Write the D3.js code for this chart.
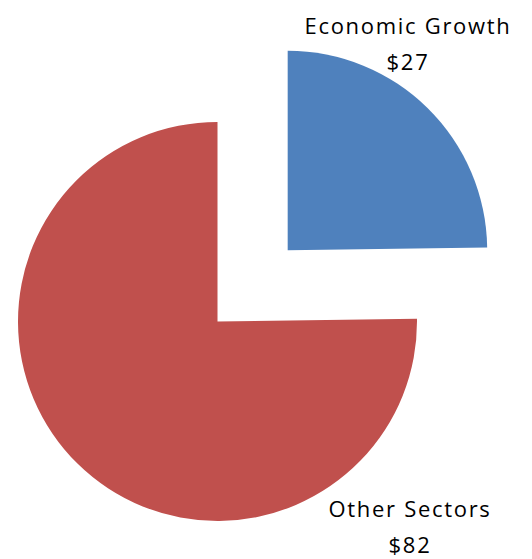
<!DOCTYPE html>
<html>
<head>
<meta charset="utf-8">
<script src="https://cdn.jsdelivr.net/npm/d3@7"></script>
<style>
  html, body { margin: 0; padding: 0; background: #fff; }
  svg { display: block; }
</style>
</head>
<body>
<svg id="chart" width="532" height="559"></svg>
<script>
// data
const categories = ["Economic Growth", "Other Sectors"];
const values = [27, 82];
const valueLabels = ["$27", "$82"];
const colors = ["#4F81BD", "#C0504D"];

const w = 532, h = 559;
const cx = 217.5, cy = 321.5, r = 199.5;
const explode = [100, 0]; // px pulled out along mid angle
// label anchor points (x, baseline of first line)
const labelPos = [[408, 34], [410, 517]];

const svg = d3.select("#chart");

const pie = d3.pie().sort(null).value((d) => d.v);
const arc = d3.arc().innerRadius(0).outerRadius(r);

const slices = pie(values.map((v, i) => ({ v, i })));

const g = svg.append("g").attr("transform", `translate(${cx},${cy})`);

g.selectAll("path")
  .data(slices)
  .join("path")
  .attr("d", arc)
  .attr("fill", (d) => colors[d.data.i])
  .attr("transform", (d) => {
    const mid = (d.startAngle + d.endAngle) / 2;
    const o = explode[d.data.i];
    return `translate(${o * Math.sin(mid)},${-o * Math.cos(mid)})`;
  });

// labels
const lbl = svg.selectAll("text.lbl")
  .data(categories)
  .join("text")
  .attr("class", "lbl")
  .attr("text-anchor", "middle")
  .attr("font-family", "'Open Sans', Lato, sans-serif")
  .attr("font-size", 22)
  .attr("letter-spacing", 1.7)
  .attr("fill", "#000");

lbl.append("tspan")
  .attr("x", (d, i) => labelPos[i][0])
  .attr("y", (d, i) => labelPos[i][1])
  .text((d) => d);
lbl.append("tspan")
  .attr("x", (d, i) => labelPos[i][0])
  .attr("y", (d, i) => labelPos[i][1] + 36)
  .text((d, i) => valueLabels[i]);
</script>
</body>
</html>
